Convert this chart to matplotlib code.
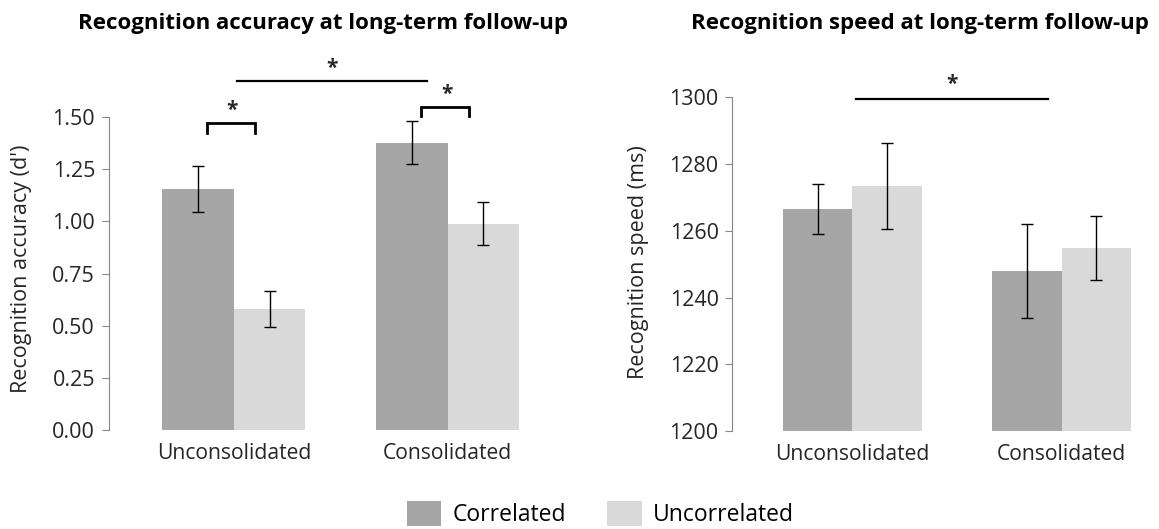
import matplotlib.pyplot as plt
from matplotlib.patches import Patch
import numpy as np

plt.rcParams['font.family'] = ['Open Sans', 'DejaVu Sans']

conditions = ['Unconsolidated', 'Consolidated']
series_names = ['Correlated', 'Uncorrelated']

acc_correlated = [1.155, 1.378]
acc_correlated_err = [0.11, 0.105]
acc_uncorrelated = [0.581, 0.988]
acc_uncorrelated_err = [0.087, 0.103]

speed_correlated = [1266.5, 1248.0]
speed_correlated_err = [7.5, 14.0]
speed_uncorrelated = [1273.5, 1255.0]
speed_uncorrelated_err = [12.9, 9.6]

DARK = '#a6a6a6'
LIGHT = '#d9d9d9'
SPINE = '#868686'
TXT = '#262626'
BAR_W = 0.334

fig = plt.figure(figsize=(11.59, 5.29), dpi=100)
ax1 = fig.add_axes([0.094, 0.187, 0.400, 0.710])
ax2 = fig.add_axes([0.632, 0.185, 0.3676, 0.694])


def draw_bars(ax, corr, corr_err, unc, unc_err):
    x = np.arange(len(conditions))
    ekw = dict(ecolor='black', elinewidth=1, capsize=4.5, capthick=1)
    ax.bar(x - BAR_W / 2, corr, BAR_W, yerr=corr_err, color=DARK,
           error_kw=ekw, zorder=2)
    ax.bar(x + BAR_W / 2, unc, BAR_W, yerr=unc_err, color=LIGHT,
           error_kw=ekw, zorder=2)
    ax.set_xticks(x)
    ax.set_xticklabels(conditions, fontsize=15.2, color=TXT)
    for s in ['top', 'right', 'bottom']:
        ax.spines[s].set_visible(False)
    ax.spines['left'].set_color(SPINE)
    ax.tick_params(axis='x', length=0, pad=9)
    ax.tick_params(axis='y', colors=SPINE, labelcolor=TXT, labelsize=15.5,
                   length=5, direction='out', pad=5)


def bracket(ax, x0, x1, y, drop):
    ax.plot([x0, x0, x1, x1], [y - drop, y, y, y - drop], color='black',
            lw=2, clip_on=False, solid_joinstyle='miter')


def star(ax, x, y):
    ax.text(x, y, '*', ha='center', va='center', fontsize=15,
            fontweight='bold', color=TXT, clip_on=False)


# left panel: accuracy
draw_bars(ax1, acc_correlated, acc_correlated_err, acc_uncorrelated, acc_uncorrelated_err)
ax1.set_xlim(-0.584, 1.584)
ax1.set_ylim(0, 1.8)
ax1.spines['left'].set_bounds(0, 1.5)
ax1.set_yticks(np.arange(0, 1.51, 0.25))
ax1.set_yticklabels([f'{v:.2f}' for v in np.arange(0, 1.51, 0.25)])
ax1.set_ylabel("Recognition accuracy (d')", fontsize=15.5, color=TXT)
ax1.yaxis.set_label_coords(-0.165, 0.43)

bracket(ax1, -0.126, 0.098, 1.47, 0.045)
star(ax1, -0.01, 1.53)
bracket(ax1, 0.874, 1.098, 1.548, 0.045)
star(ax1, 0.995, 1.61)
ax1.plot([0.013, 0.902], [1.674, 1.674], color='black', lw=1.6, clip_on=False)
star(ax1, 0.461, 1.735)

# right panel: speed
draw_bars(ax2, speed_correlated, speed_correlated_err, speed_uncorrelated, speed_uncorrelated_err)
ax2.set_xlim(-0.574, 1.464)
ax2.set_ylim(1200, 1310)
ax2.spines['left'].set_bounds(1200, 1300)
ax2.set_yticks(np.arange(1200, 1301, 20))
ax2.set_ylabel('Recognition speed (ms)', fontsize=15.5, color=TXT)
ax2.yaxis.set_label_coords(-0.195, 0.46)
ax2.plot([0.018, 0.933], [1299.4, 1299.4], color='black', lw=1.6, clip_on=False)
star(ax2, 0.478, 1304.0)

fig.text(0.279, 0.955, 'Recognition accuracy at long-term follow-up', ha='center',
         va='center', fontsize=16, fontweight='bold', color='black')
fig.text(0.794, 0.955, 'Recognition speed at long-term follow-up', ha='center',
         va='center', fontsize=16, fontweight='bold', color='black')

handles = [Patch(facecolor=DARK, label=series_names[0]),
           Patch(facecolor=LIGHT, label=series_names[1])]
fig.legend(handles=handles, loc='lower center', bbox_to_anchor=(0.518, -0.035),
           ncol=2, frameon=False, fontsize=16.5, handlelength=1.5, handleheight=1.3,
           columnspacing=1.8, handletextpad=0.5)

fig.savefig('out.png', dpi=100)
